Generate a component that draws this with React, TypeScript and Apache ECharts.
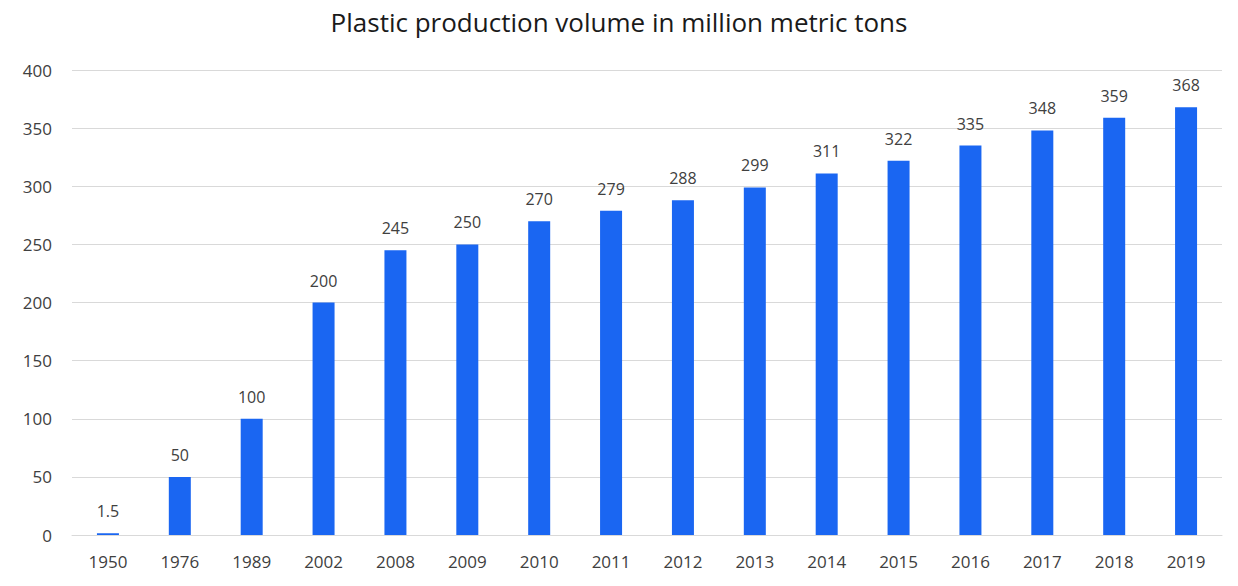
import React, { useEffect, useRef } from "react";
import * as echarts from "echarts";

const categories = ["1950", "1976", "1989", "2002", "2008", "2009", "2010", "2011", "2012", "2013", "2014", "2015", "2016", "2017", "2018", "2019"];
const values = [1.5, 50, 100, 200, 245, 250, 270, 279, 288, 299, 311, 322, 335, 348, 359, 368];

export default function App() {
  const ref = useRef<HTMLDivElement>(null);
  useEffect(() => {
    const chart = echarts.init(ref.current!, null, { renderer: "svg" });
    const font = "'Open Sans', 'Noto Sans', sans-serif";
    chart.setOption({
      animation: false,
      backgroundColor: "#ffffff",
      title: {
        text: "Plastic production volume in million metric tons",
        left: "center",
        top: 4,
        textStyle: { fontFamily: font, fontSize: 26, fontWeight: "normal", color: "#1a1a1a" },
      },
      grid: { left: 72, right: 16, top: 70, bottom: 51 },
      xAxis: {
        type: "category",
        data: categories,
        axisLine: { lineStyle: { color: "#d9d9d9" } },
        axisTick: { show: false },
        axisLabel: { fontFamily: font, fontSize: 17, color: "#404040", margin: 18 },
      },
      yAxis: {
        type: "value",
        min: 0,
        max: 400,
        interval: 50,
        axisLine: { show: false },
        axisTick: { show: false },
        splitLine: { lineStyle: { color: "#d9d9d9" } },
        axisLabel: { fontFamily: font, fontSize: 17, color: "#404040", margin: 20 },
      },
      series: [
        {
          type: "bar",
          data: values,
          barWidth: 22,
          itemStyle: { color: "#1a66f2" },
          label: {
            show: true,
            position: "top",
            distance: 14,
            fontFamily: font,
            fontSize: 16,
            color: "#404040",
          },
        },
      ],
    });
    return () => chart.dispose();
  }, []);
  return <div ref={ref} style={{ position: "absolute", left: 0, top: 0, width: 1238, height: 586 }} />;
}
